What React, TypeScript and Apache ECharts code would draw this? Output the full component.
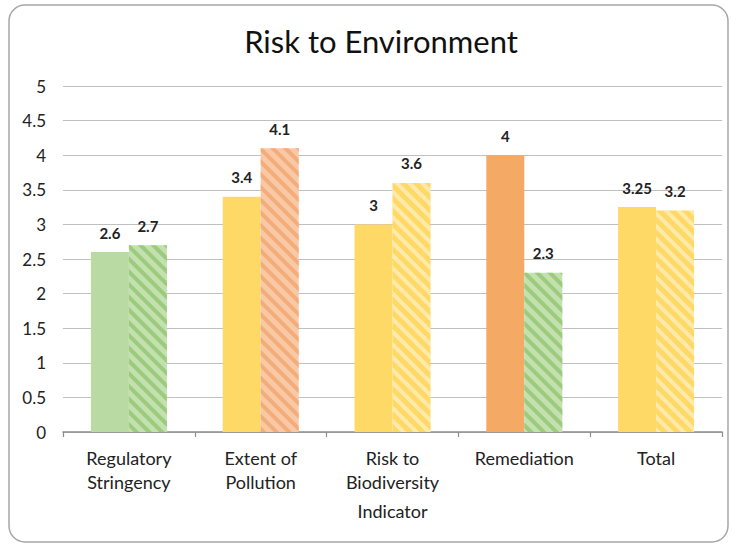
import React, { useEffect, useRef } from "react";
import * as echarts from "echarts";

const categories = ["Regulatory\nStringency", "Extent of\nPollution", "Risk to\nBiodiversity", "Remediation", "Total"];
const seriesA = [2.6, 3.4, 3.0, 4.0, 3.25];
const seriesB = [2.7, 4.1, 3.6, 2.3, 3.2];
const labelsA = ["2.6", "3.4", "3", "4", "3.25"];
const labelsB = ["2.7", "4.1", "3.6", "2.3", "3.2"];
const colorsA = ["#b9dba3", "#ffd966", "#ffd966", "#f4aa64", "#ffd966"];
const colorsB = ["#c3e0af", "#f9c9a6", "#ffd966", "#c3e0af", "#ffd966"];
const stripeB = ["#9dcb7e", "#f3ad7b", "rgba(255,255,255,0.45)", "#9dcb7e", "rgba(255,255,255,0.45)"];

export default function App() {
  const ref = useRef<HTMLDivElement>(null);
  useEffect(() => {
    const chart = echarts.init(ref.current!, null, { renderer: "svg" });
    const font = "Lato, 'Open Sans', sans-serif";
    const halfTicks: string[] = [];
    categories.forEach((c) => { halfTicks.push(c + "a"); halfTicks.push(c + "b"); });
    const valueLabel = { show: true, position: "top", distance: 12, fontFamily: font, fontSize: 15, fontWeight: "bold", color: "#222" };
    chart.setOption({
      animation: false,
      backgroundColor: "#ffffff",
      textStyle: { fontFamily: font },
      title: {
        text: "Risk to Environment",
        left: 376,
        top: 20,
        textAlign: "center",
        textStyle: { fontFamily: font, fontSize: 31, fontWeight: "normal", color: "#111" },
      },
      graphic: [
        {
          type: "rect",
          shape: { x: 9, y: 5, width: 719, height: 537, r: 16 },
          style: { fill: "none", stroke: "#a6a6a6", lineWidth: 1.5 },
          silent: true,
        },
      ],
      grid: { left: 63, right: 10, top: 86, bottom: 114 },
      xAxis: [
        {
          type: "category",
          data: categories,
          name: "Indicator",
          nameLocation: "middle",
          nameGap: 70,
          nameTextStyle: { fontFamily: font, fontSize: 18, color: "#222" },
          axisLine: { lineStyle: { color: "#8c8c8c", width: 1.5 } },
          axisTick: { show: false },
          axisLabel: { fontFamily: font, fontSize: 18, color: "#222", lineHeight: 24, margin: 14, interval: 0 },
        },
        {
          type: "category",
          data: halfTicks,
          position: "bottom",
          axisLine: { show: false },
          axisLabel: { show: false },
          axisTick: { show: true, length: 5, lineStyle: { color: "#8c8c8c", width: 1.2 } },
        },
      ],
      yAxis: {
        type: "value",
        min: 0,
        max: 5,
        interval: 0.5,
        axisLine: { show: false },
        axisTick: { show: false },
        axisLabel: { fontFamily: font, fontSize: 17, color: "#222", margin: 17 },
        splitLine: { lineStyle: { color: "#c0c0c0", width: 1.2 } },
      },
      series: [
        {
          type: "bar",
          xAxisIndex: 0,
          barWidth: 38,
          barGap: "0%",
          data: seriesA.map((v, i) => ({
            value: v,
            itemStyle: { color: colorsA[i] },
            label: { formatter: labelsA[i] },
          })),
          label: valueLabel,
        },
        {
          type: "bar",
          xAxisIndex: 0,
          barWidth: 38,
          barGap: "0%",
          data: seriesB.map((v, i) => ({
            value: v,
            itemStyle: {
              color: colorsB[i],
              decal: {
                symbol: "rect",
                symbolSize: 1,
                dashArrayX: [1, 0],
                dashArrayY: [4, 5],
                rotation: Math.PI / 4,
                color: stripeB[i],
              },
            },
            label: { formatter: labelsB[i] },
          })),
          label: valueLabel,
        },
      ],
    });
    return () => chart.dispose();
  }, []);
  return <div ref={ref} style={{ position: "fixed", left: 0, top: 0, width: 732, height: 546 }} />;
}
